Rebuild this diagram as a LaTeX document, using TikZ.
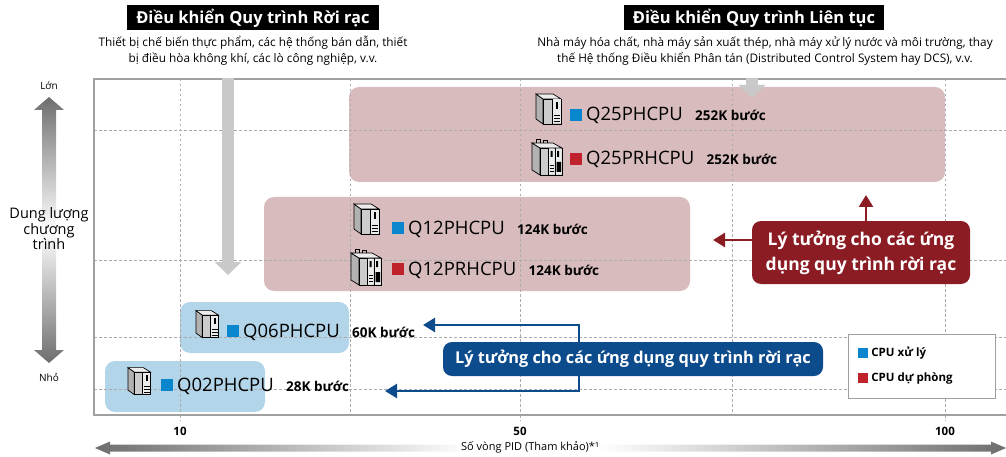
\documentclass[tikz,border=0pt]{standalone}
\usepackage{fontspec}
\setmainfont{Open Sans}
\usetikzlibrary{arrows.meta,positioning}

\definecolor{rangepink}{HTML}{D8BBBD}
\definecolor{rangeblue}{HTML}{B3D5EA}
\definecolor{notered}{HTML}{8B1C24}
\definecolor{noteblue}{HTML}{0C4B8C}
\definecolor{cpublue}{HTML}{0A86CE}
\definecolor{cpured}{HTML}{C0222C}
\definecolor{arrowgray}{HTML}{C9C9C9}
\definecolor{gridgray}{HTML}{ABABAB}
\definecolor{framegray}{HTML}{A0A0A0}
\definecolor{axisgray}{HTML}{6E6E6E}

\tikzset{
  gridline/.style={gridgray, line width=.8pt, dash pattern=on 2.5pt off 2.5pt},
  headbox/.style={fill=black, text=white, font=\bfseries\fontsize{16.5}{16.5}\selectfont, inner xsep=9pt, minimum height=23pt},
  subtitle/.style={align=center, font=\fontsize{11.8}{16}\selectfont},
  cpuname/.style={anchor=base west, inner sep=0pt, font=\fontsize{18.5}{18.5}\selectfont},
  stepcount/.style={anchor=base west, inner sep=0pt, xshift=12pt, font=\bfseries\fontsize{13.5}{13.5}\selectfont},
  swatch/.style={minimum size=12pt, inner sep=0pt, anchor=south east, xshift=-4pt},
  notebox/.style={text=white, rounded corners=9pt, align=center, inner sep=0pt, font=\bfseries\fontsize{16.3}{24.5}\selectfont},
  pointer/.style={line width=2.5pt, -{Triangle[width=14pt,length=12pt]}},
  bigarrow/.style={arrowgray, line width=12pt, -{Triangle[width=26pt,length=13pt]}},
  ticklabel/.style={font=\bfseries\fontsize{11.5}{11.5}\selectfont},
  legendtext/.style={inner sep=0pt, font=\bfseries\fontsize{11.5}{11.5}\selectfont},
  cpu/.pic={
    \filldraw[fill=gray!60, line width=.7pt] (0,4) -- (7,9) -- (7,34) -- (0,29) -- cycle;
    \filldraw[fill=gray!15, line width=.7pt] (0,4) -- (17,4) -- (25,9) -- (7,9) -- cycle;
    \filldraw[fill=gray!40, line width=.7pt] (7,9) rectangle (25,34);
    \fill[gray!15] (16.5,9.5) rectangle (24.5,33.5);
    \draw[line width=.5pt] (16,9) -- (16,34);
    \fill (20,12) rectangle (22,19);
    \draw[line width=.6pt] (18,25) -- (24,25) (18,28) -- (24,28) (18,31) -- (24,31);
  },
  cpudual/.pic={
    \filldraw[fill=gray!60, line width=.7pt] (0,6) -- (8,11) -- (8,38) -- (0,33) -- cycle;
    \filldraw[fill=gray!15, line width=.7pt] (0,6) -- (21,6) -- (30,11) -- (8,11) -- cycle;
    \draw[line width=.6pt] (4,6) -- (4,2) -- (8,2) -- (8,6) (11,6) -- (11,3) -- (15,3) -- (15,6);
    \filldraw[fill=gray!40, line width=.7pt] (8,11) rectangle (30,38);
    \fill[gray!15] (16.5,11.5) rectangle (22.5,37.5) (23.5,11.5) rectangle (29.5,37.5);
    \draw[line width=.5pt] (16,11) -- (16,38) (23,11) -- (23,38);
    \fill (18.5,14) rectangle (20.5,20) (25,14) rectangle (27,20) (24.5,25) rectangle (29,35);
    \draw[line width=.6pt] (17.5,28) -- (22,28) (17.5,31) -- (22,31) (17.5,34) -- (22,34);
  },
}

\begin{document}
\begin{tikzpicture}[x=1pt, y=-1pt]
\useasboundingbox (0,0) rectangle (1006,457);

\fill[rangepink, rounded corners=10pt] (349,87) rectangle (945,182);
\fill[rangepink, rounded corners=10pt] (264,197) rectangle (690,291);
\fill[rangeblue, rounded corners=10pt] (180,302) rectangle (349,353);
\fill[rangeblue, rounded corners=10pt] (105,361) rectangle (265,412);

\foreach \x in {180,350,520,732,945}
  \draw[gridline] (\x,79) -- (\x,415);
\foreach \x in {180,520,945}
  \draw[gridline] (\x,415) -- (\x,421);
\foreach \y in {130,260,337,389}
  \draw[gridline] (94,\y) -- (1006,\y);
\draw[framegray, line width=1.5pt] (1006,79) -- (94,79) -- (94,415) -- (1006,415);

\coordinate (discreteTop) at (228,78);
\coordinate (discreteTip) at (228,275);
\coordinate (continuousTop) at (752,78);
\coordinate (continuousTip) at (752,98);
\draw[bigarrow] (discreteTop) -- (discreteTip);
\draw[bigarrow] (continuousTop) -- (continuousTip);

\node[headbox] (discrete) at (253,18) {Điều khiển Quy trình Rời rạc};
\node[subtitle] (discreteApps) at (253,51) {Thiết bị chế biến thực phẩm, các hệ thống bán dẫn, thiết\\bị điều hòa không khí, các lò công nghiệp, v.v.};
\node[headbox] (continuous) at (754,18) {Điều khiển Quy trình Liên tục};
\node[subtitle] (continuousApps) at (765,51) {Nhà máy hóa chất, nhà máy sản xuất thép, nhà máy xử lý nước và môi trường, thay\\thế Hệ thống Điều khiển Phân tán (Distributed Control System hay DCS), v.v.};

\shade[top color=axisgray, bottom color=white] (49,97) -- (64,110) -- (56,110) -- (56,230) -- (42,230) -- (42,110) -- (34,110) -- cycle;
\shade[top color=white, bottom color=axisgray] (49,363) -- (64,350) -- (56,350) -- (56,230) -- (42,230) -- (42,350) -- (34,350) -- cycle;
\node[font=\fontsize{10}{10}\selectfont] (large) at (49,86) {Lớn};
\node[font=\fontsize{10}{10}\selectfont] (small) at (49,377) {Nhỏ};
\node[align=center, font=\fontsize{14.5}{15.5}\selectfont] (capacity) at (49,229) {Dung lượng\\chương\\trình};

\shade[left color=axisgray, right color=white] (95,448) -- (110,441.5) -- (110,444.5) -- (470,444.5) -- (470,451.5) -- (110,451.5) -- (110,454.5) -- cycle;
\shade[left color=white, right color=axisgray] (600,444.5) -- (991,444.5) -- (991,441.5) -- (1006,448) -- (991,454.5) -- (991,451.5) -- (600,451.5) -- cycle;
\node[ticklabel] (tick10) at (180,431) {10};
\node[ticklabel] (tick50) at (520,431) {50};
\node[ticklabel] (tick100) at (945,431) {100};
\node[font=\fontsize{11}{11}\selectfont] (pidLoops) at (530,447) {Số vòng PID (Tham khảo)*¹};

\pic at (536,90) {cpu};
\node[cpuname] (q25p) at (586,121) {Q25PHCPU};
\node[swatch, fill=cpublue] (q25pSw) at (q25p.base west) {};
\node[stepcount] (q25pSteps) at (q25p.base east) {252K bước};

\pic at (532,137) {cpudual};
\node[cpuname] (q25pr) at (586,165) {Q25PRHCPU};
\node[swatch, fill=cpured] (q25prSw) at (q25pr.base west) {};
\node[stepcount] (q25prSteps) at (q25pr.base east) {252K bước};

\pic at (354,200) {cpu};
\node[cpuname] (q12p) at (408,234) {Q12PHCPU};
\node[swatch, fill=cpublue] (q12pSw) at (q12p.base west) {};
\node[stepcount] (q12pSteps) at (q12p.base east) {124K bước};

\pic at (351,247) {cpudual};
\node[cpuname] (q12pr) at (408,275) {Q12PRHCPU};
\node[swatch, fill=cpured] (q12prSw) at (q12pr.base west) {};
\node[stepcount] (q12prSteps) at (q12pr.base east) {124K bước};

\pic[scale=.9] at (196,307) {cpu};
\node[cpuname] (q06p) at (243,337) {Q06PHCPU};
\node[swatch, fill=cpublue] (q06pSw) at (q06p.base west) {};
\node[stepcount] (q06pSteps) at (q06p.base east) {60K bước};

\pic[scale=.9] at (128,364) {cpu};
\node[cpuname] (q02p) at (177,391) {Q02PHCPU};
\node[swatch, fill=cpublue] (q02pSw) at (q02p.base west) {};
\node[stepcount] (q02pSteps) at (q02p.base east) {28K bước};

\node[notebox, fill=noteblue, minimum width=380pt, minimum height=34pt] (blueNote) at (633,359) {Lý tưởng cho các ứng dụng quy trình rời rạc};
\coordinate (q06Tip) at (423,325);
\coordinate (q02Tip) at (385,391);
\draw[pointer, noteblue] ([xshift=-54pt]blueNote.north) |- (q06Tip);
\draw[pointer, noteblue] ([xshift=-54pt]blueNote.south) |- (q02Tip);

\node[notebox, fill=notered, minimum width=218pt, minimum height=63pt, font=\bfseries\fontsize{17.5}{25}\selectfont] (redNote) at (861,252.5) {Lý tưởng cho các ứng\\dụng quy trình rời rạc};
\coordinate (q25Tip) at (866,195);
\coordinate (q12Tip) at (713,240);
\draw[pointer, notered] (redNote.north -| q25Tip) -- (q25Tip);
\draw[pointer, notered] (redNote.west |- q12Tip) -- (q12Tip);

\node[draw=framegray, fill=white, line width=1pt, minimum width=147pt, minimum height=64pt, inner sep=0pt] (legend) at (921.5,366) {};
\node[minimum size=10pt, inner sep=0pt, fill=cpublue] (legendBlue) at (863,353) {};
\node[legendtext, right=3pt of legendBlue] (legendBlueText) {CPU xử lý};
\node[minimum size=10pt, inner sep=0pt, fill=cpured] (legendRed) at (863,378) {};
\node[legendtext, right=3pt of legendRed] (legendRedText) {CPU dự phòng};
\end{tikzpicture}
\end{document}
